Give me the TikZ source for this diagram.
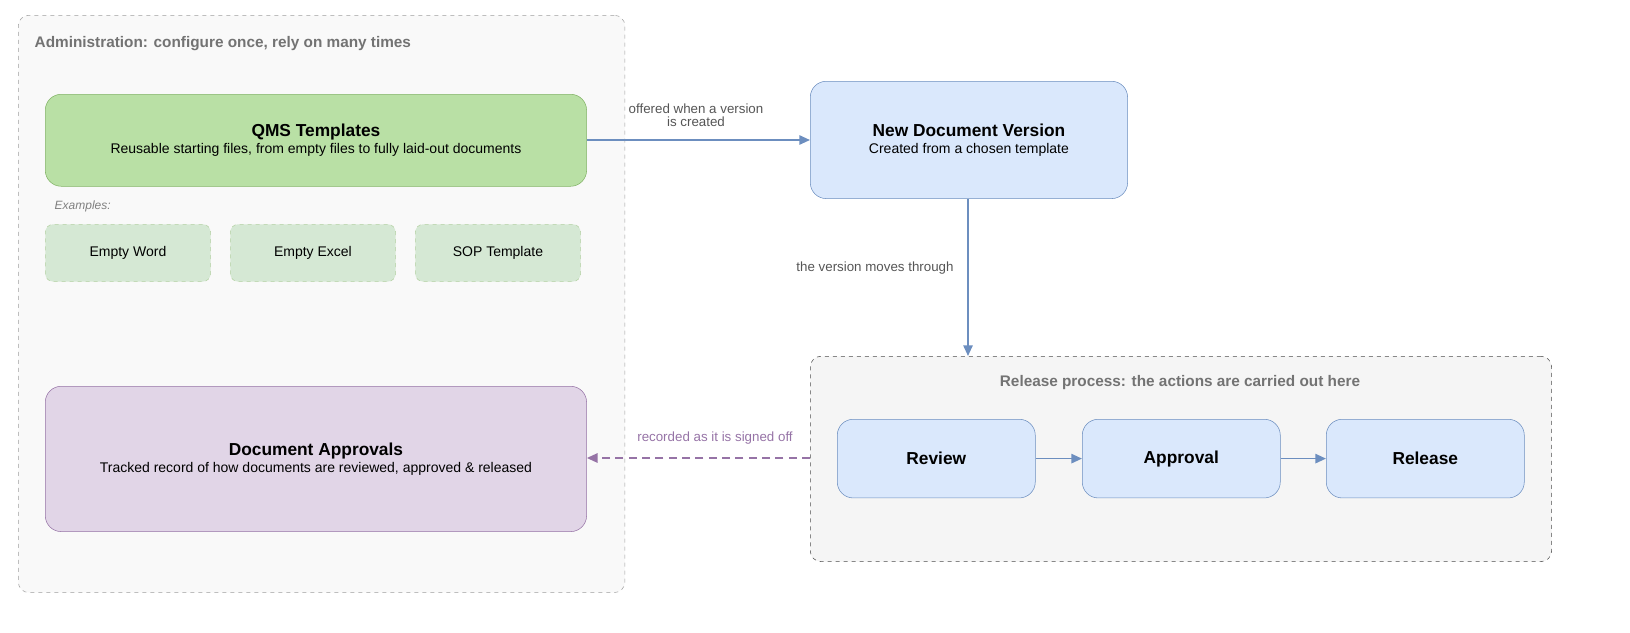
\documentclass[tikz,border=0pt]{standalone}
\usepackage{fontspec}
\setmainfont{Liberation Sans}
\usetikzlibrary{positioning, arrows.meta, calc}
\definecolor{grayline}{HTML}{9E9E9E}
\definecolor{adminfill}{HTML}{F9F9F9}
\definecolor{relfill}{HTML}{F5F5F5}
\definecolor{greenfill}{HTML}{B9E0A5}
\definecolor{greenline}{HTML}{82B366}
\definecolor{lightgreen}{HTML}{D5E8D4}
\definecolor{bluefill}{HTML}{DAE8FC}
\definecolor{blueline}{HTML}{6C8EBF}
\definecolor{purplefill}{HTML}{E1D5E7}
\definecolor{purpleline}{HTML}{9673A6}
\definecolor{labelgray}{HTML}{555555}
\tikzset{
	box/.style={draw, rounded corners=12pt, align=center, inner sep=0pt, anchor=north west},
	example/.style={box, dashed, rounded corners=6pt, fill=lightgreen, draw=greenline!60, font=\fontsize{10.5}{12}\selectfont},
	stepbox/.style={box, fill=bluefill, draw=blueline, minimum width=148.5pt, minimum height=59pt, font=\bfseries\fontsize{13}{15}\selectfont},
	flow/.style={-{Triangle[length=8pt, width=7pt]}, draw=blueline, line width=1.3pt},
	lbl/.style={font=\fontsize{10}{12}\selectfont, text=labelgray, align=center},
}
\begin{document}
\begin{tikzpicture}[x=0.75pt, y=-0.75pt]
	\useasboundingbox (0,0) rectangle (1630,632);
	% Containers
	\node[box, dashed, draw=grayline, fill=adminfill, rounded corners=8pt, minimum width=455pt, minimum height=433pt] (admin) at (18,15) {};
	\node[anchor=west, text=gray!90!black, font=\bfseries\fontsize{11.5}{14}\selectfont] (admintitle) at (30,44) {Administration: configure once, rely on many times};
	\node[box, dashed, draw=black!70, fill=relfill, rounded corners=8pt, minimum width=556pt, minimum height=154pt] (release) at (810,356) {};
	\node[text=gray!90!black, font=\bfseries\fontsize{11.5}{14}\selectfont] (reltitle) at (1180,383) {Release process: the actions are carried out here};
	% Main boxes
	\node[box, fill=greenfill, draw=greenline, minimum width=406pt, minimum height=69pt] (qms) at (45,94)
		{{\bfseries\fontsize{13}{16}\selectfont QMS Templates}\\[1pt]{\fontsize{10.5}{13}\selectfont Reusable starting files, from empty files to fully laid-out documents}};
	\node[anchor=west, text=gray, font=\itshape\fontsize{9}{11}\selectfont] (examples) at (50,206) {Examples:};
	\node[example, minimum width=124pt, minimum height=43pt] (word) at (45,224) {Empty Word};
	\node[example, minimum width=124pt, minimum height=43pt] (excel) at (230,224) {Empty Excel};
	\node[example, minimum width=124pt, minimum height=43pt] (sop) at (415,224) {SOP Template};
	\node[box, fill=purplefill, draw=purpleline, minimum width=406pt, minimum height=109pt] (approvals) at (45,386)
		{{\bfseries\fontsize{13}{16}\selectfont Document Approvals}\\[1pt]{\fontsize{10.5}{13}\selectfont Tracked record of how documents are reviewed, approved \& released}};
	\node[box, fill=bluefill, draw=blueline, minimum width=238pt, minimum height=88pt] (newver) at (810,81)
		{{\bfseries\fontsize{13}{16}\selectfont New Document Version}\\[1pt]{\fontsize{10.5}{13}\selectfont Created from a chosen template}};
	% Steps
	\node[stepbox] (review) at (837,419) {Review};
	\node[stepbox] (approval) at (1082,419) {Approval};
	\node[stepbox] (rel) at (1326,419) {Release};
	% Connectors
	\draw[flow] (qms.east |- 0,140) -- (newver.west |- 0,140);
	\node[lbl] (offered) at (696,115) {offered when a version\\[-2pt]is created};
	\draw[flow] (newver.south -| 968,0) -- (release.north -| 968,0);
	\node[lbl] (moves) at (875,268) {the version moves through};
	\draw[flow] (review) -- (approval);
	\draw[flow] (approval) -- (rel);
	\draw[-{Triangle[length=8pt, width=7pt]}, dashed, draw=purpleline, line width=1.3pt, dash pattern=on 6pt off 4pt] (release.west |- 0,458) -- (approvals.east |- 0,458);
	\node[lbl, text=purpleline] (recorded) at (715,438) {recorded as it is signed off};
\end{tikzpicture}
\end{document}
